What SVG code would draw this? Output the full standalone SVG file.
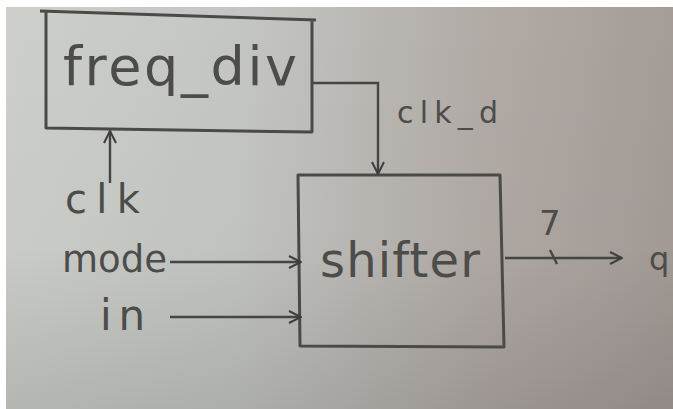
<svg xmlns="http://www.w3.org/2000/svg" width="673" height="409" viewBox="0 0 673 409">
<defs>
<linearGradient id="bgx" x1="0" y1="0" x2="1" y2="0">
<stop offset="0" stop-color="#cdcfcb"/>
<stop offset="0.35" stop-color="#c4c6c3"/>
<stop offset="0.7" stop-color="#b2aca7"/>
<stop offset="1" stop-color="#a59c97"/>
</linearGradient>
<linearGradient id="bgy" x1="0" y1="0" x2="0" y2="1">
<stop offset="0" stop-color="#000" stop-opacity="0"/>
<stop offset="0.6" stop-color="#000" stop-opacity="0.02"/>
<stop offset="1" stop-color="#000" stop-opacity="0.12"/>
</linearGradient>
<marker id="arr" viewBox="0 0 14 14" refX="13" refY="7" markerWidth="14" markerHeight="14" markerUnits="userSpaceOnUse" orient="auto">
<path d="M1,1 L13,7 L1,13" fill="none" stroke="#3e3e3e" stroke-width="2"/>
</marker>
<style>
.box{fill:none;stroke:#4a4a48;stroke-width:3;stroke-linejoin:round}
.wire{fill:none;stroke:#454544;stroke-width:2.4}
.lbl{font-family:"DejaVu Sans",sans-serif;fill:#4c4c4a}
</style>
</defs>
<rect width="673" height="409" fill="#ffffff"/>
<rect x="6" y="7" width="667" height="402" fill="url(#bgx)"/>
<rect x="6" y="7" width="667" height="402" fill="url(#bgy)"/>

<g id="freq_div">
<path class="box" d="M40,11 L316,20 M46,12 L46,128 L312,132 L312,20"/>
<text class="lbl" x="63" y="85" font-size="54" textLength="234" lengthAdjust="spacing">freq_div</text>
</g>

<g id="shifter">
<path class="box" d="M298,175 L500,175 L504,347 L300,346 Z"/>
<text class="lbl" x="320" y="277" font-size="48" textLength="160" lengthAdjust="spacing">shifter</text>
</g>

<g id="labels">
<text class="lbl" x="397" y="123" font-size="30" textLength="101" lengthAdjust="spacing">clk_d</text>
<text class="lbl" x="65" y="213" font-size="40" textLength="75" lengthAdjust="spacing">clk</text>
<text class="lbl" x="62" y="272" font-size="37" textLength="105" lengthAdjust="spacing">mode</text>
<text class="lbl" x="100" y="330" font-size="42" textLength="45" lengthAdjust="spacing">in</text>
<text class="lbl" x="539" y="235" font-size="34">7</text>
<text class="lbl" x="649" y="270" font-size="32">q</text>
</g>

<g id="connectors">
<path class="wire" d="M313,83 L378,83 L378,174" marker-end="url(#arr)"/>
<path class="wire" d="M110,183 L110,131" marker-end="url(#arr)"/>
<path class="wire" d="M170,262 L301,262" marker-end="url(#arr)"/>
<path class="wire" d="M170,317 L301,317" marker-end="url(#arr)"/>
<path class="wire" d="M505,258 L622,258" marker-end="url(#arr)"/>
<path class="wire" d="M550,250 L557,264"/>
</g>
</svg>
